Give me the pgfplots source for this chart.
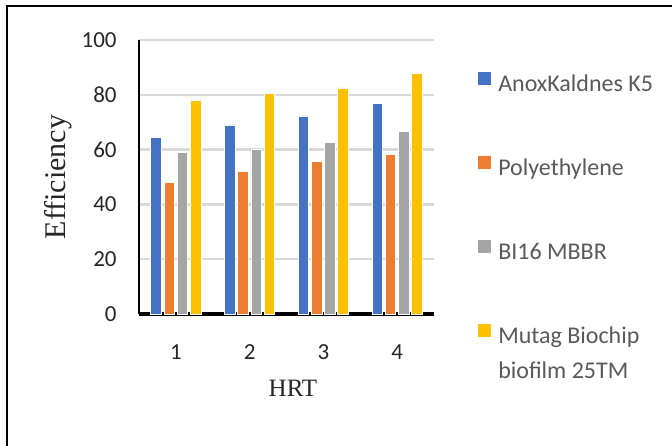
\documentclass[border=0pt]{standalone}
\usepackage{fontspec}
\setmainfont{Carlito}
\newfontfamily\serifl{Liberation Serif}
\usepackage{pgfplots}
\pgfplotsset{compat=1.18}

\definecolor{cblue}{HTML}{4472C4}
\definecolor{corange}{HTML}{ED7D31}
\definecolor{cgray}{HTML}{A5A5A5}
\definecolor{cyellow}{HTML}{FFC000}
\definecolor{gridgray}{HTML}{D9D9D9}
\definecolor{ticktext}{HTML}{262626}
\definecolor{legtext}{HTML}{595959}

\begin{document}
\begin{tikzpicture}
\useasboundingbox (0,0) rectangle (336pt,-222.5pt);
\begin{scope}
  \clip (0,0) rectangle (336pt,-222.5pt);
  \draw[line width=0.8pt] (3.5pt,-3pt) rectangle (350pt,-240pt);
\end{scope}
\begin{axis}[
    at={(69.5pt,-157pt)}, anchor=south west,
    width=147.5pt, height=137pt, scale only axis,
    xmin=0.5, xmax=4.5, ymin=0, ymax=100,
    xtick={1,2,3,4}, ytick={0,20,...,100},
    ybar=1.3pt, bar width=5.3pt,
    axis x line=bottom, axis y line=left,
    x axis line style={-, black, line width=1.6pt},
    y axis line style={-, black, line width=1.2pt},
    ymajorgrids, grid style={draw=gridgray, line width=1.2pt},
    major tick length=0pt,
    /pgf/number format/assume math mode=true,
    tick label style={font=\fontsize{11.5}{13}\selectfont, text=ticktext, inner sep=0pt},
    yticklabel style={anchor=east, xshift=-11pt},
    xticklabel style={anchor=center, yshift=-19pt},
    xlabel={HRT}, ylabel={Efficiency},
    xlabel style={font=\serifl\fontsize{12.5}{14}\selectfont, text=ticktext,
        at={(axis description cs:0.522,0)}, anchor=center, yshift=-37pt},
    ylabel style={font=\serifl\fontsize{15}{17}\selectfont, text=ticktext,
        at={(axis description cs:-0.2746,0.5)}, anchor=center},
    legend cell align=left,
    legend style={draw=none, fill=none, inner sep=0pt,
        at={(axis description cs:1.146,0.887)}, anchor=north west,
        row sep=28.7pt, font=\fontsize{12}{17.2}\selectfont, text=legtext,
        nodes={inner sep=0pt, text height=8.6pt, text depth=3pt},
        /tikz/every odd column/.append style={column sep=3pt}},
    legend image code/.code={\fill[#1] (0pt,0.3pt) rectangle (7pt,7.3pt);},
]
\addplot[fill=cblue, draw=white, line width=0.4pt]
    coordinates {(1,64.3) (2,69.0) (3,72.3) (4,76.8)};
\addplot[fill=corange, draw=white, line width=0.4pt]
    coordinates {(1,48.1) (2,51.9) (3,55.6) (4,58.3)};
\addplot[fill=cgray, draw=white, line width=0.4pt]
    coordinates {(1,58.9) (2,60.1) (3,62.6) (4,66.5)};
\addplot[fill=cyellow, draw=white, line width=0.4pt]
    coordinates {(1,77.8) (2,80.4) (3,82.5) (4,87.9)};
\legend{AnoxKaldnes K5, Polyethylene, BI16 MBBR,
    {\begin{tabular}[t]{@{}l@{}}Mutag Biochip\\biofilm 25TM\end{tabular}}}
\end{axis}
\end{tikzpicture}
\end{document}
